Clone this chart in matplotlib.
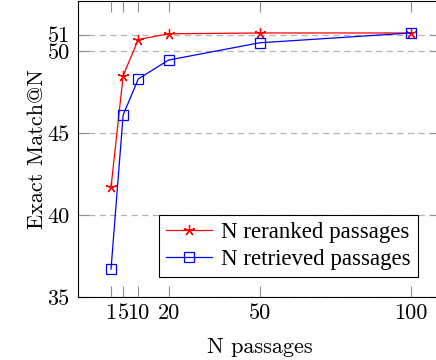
import matplotlib
matplotlib.use("Agg")
import matplotlib.pyplot as plt

# data
n_passages = [1, 5, 10, 20, 50, 100]
em_reranked = [41.7, 48.5, 50.7, 51.05, 51.1, 51.1]
em_retrieved = [36.7, 46.1, 48.3, 49.45, 50.5, 51.1]

x_ticks = [1, 5, 10, 20, 50, 100]
y_ticks = [35, 40, 45, 50, 51]

plt.rcParams['font.family'] = 'cmr10'
plt.rcParams['axes.formatter.use_mathtext'] = True

fig = plt.figure(figsize=(4.36, 3.6), dpi=100)
ax = fig.add_axes([78 / 436, 63 / 360, 363 / 436, 296 / 360])

ax.plot(n_passages, em_reranked, color='red', lw=0.9, marker=(5, 2, 0),
        ms=8, mew=0.9, label='N reranked passages')
ax.plot(n_passages, em_retrieved, color='blue', lw=0.9, marker='s',
        ms=7.5, mfc='none', mew=0.9, label='N retrieved passages')

ax.set_xlim(-9.9, 109.9)
ax.set_ylim(35, 53.05)
ax.set_xticks(x_ticks)
ax.set_yticks(y_ticks)
ax.set_xticklabels([str(v) for v in x_ticks])
ax.set_yticklabels([str(v) for v in y_ticks])

ax.grid(axis='y', color='#b4b4b4', linestyle=(0, (5, 3.5)), lw=0.9)
ax.tick_params(axis='x', direction='in', length=8, width=0.8, color='#909090',
               top=True, labelsize=16, pad=5)
ax.tick_params(axis='y', direction='in', length=8, width=0.8, color='#909090',
               right=True, labelsize=16, pad=6)
for s in ax.spines.values():
    s.set_linewidth(0.8)

ax.set_xlabel('N passages', fontsize=16, labelpad=10)
ax.set_ylabel('Exact Match@N', fontsize=16, labelpad=0)

leg = ax.legend(loc='lower right', bbox_to_anchor=(429 / 436, 72 / 360),
                bbox_transform=fig.transFigure, fancybox=False, framealpha=1,
                edgecolor='black', handlelength=2.0, borderpad=0.3,
                labelspacing=0.25, handletextpad=0.4,
                prop={'family': 'Liberation Serif', 'size': 16.5})
leg.get_frame().set_linewidth(0.8)

fig.savefig('out.png', dpi=100)
